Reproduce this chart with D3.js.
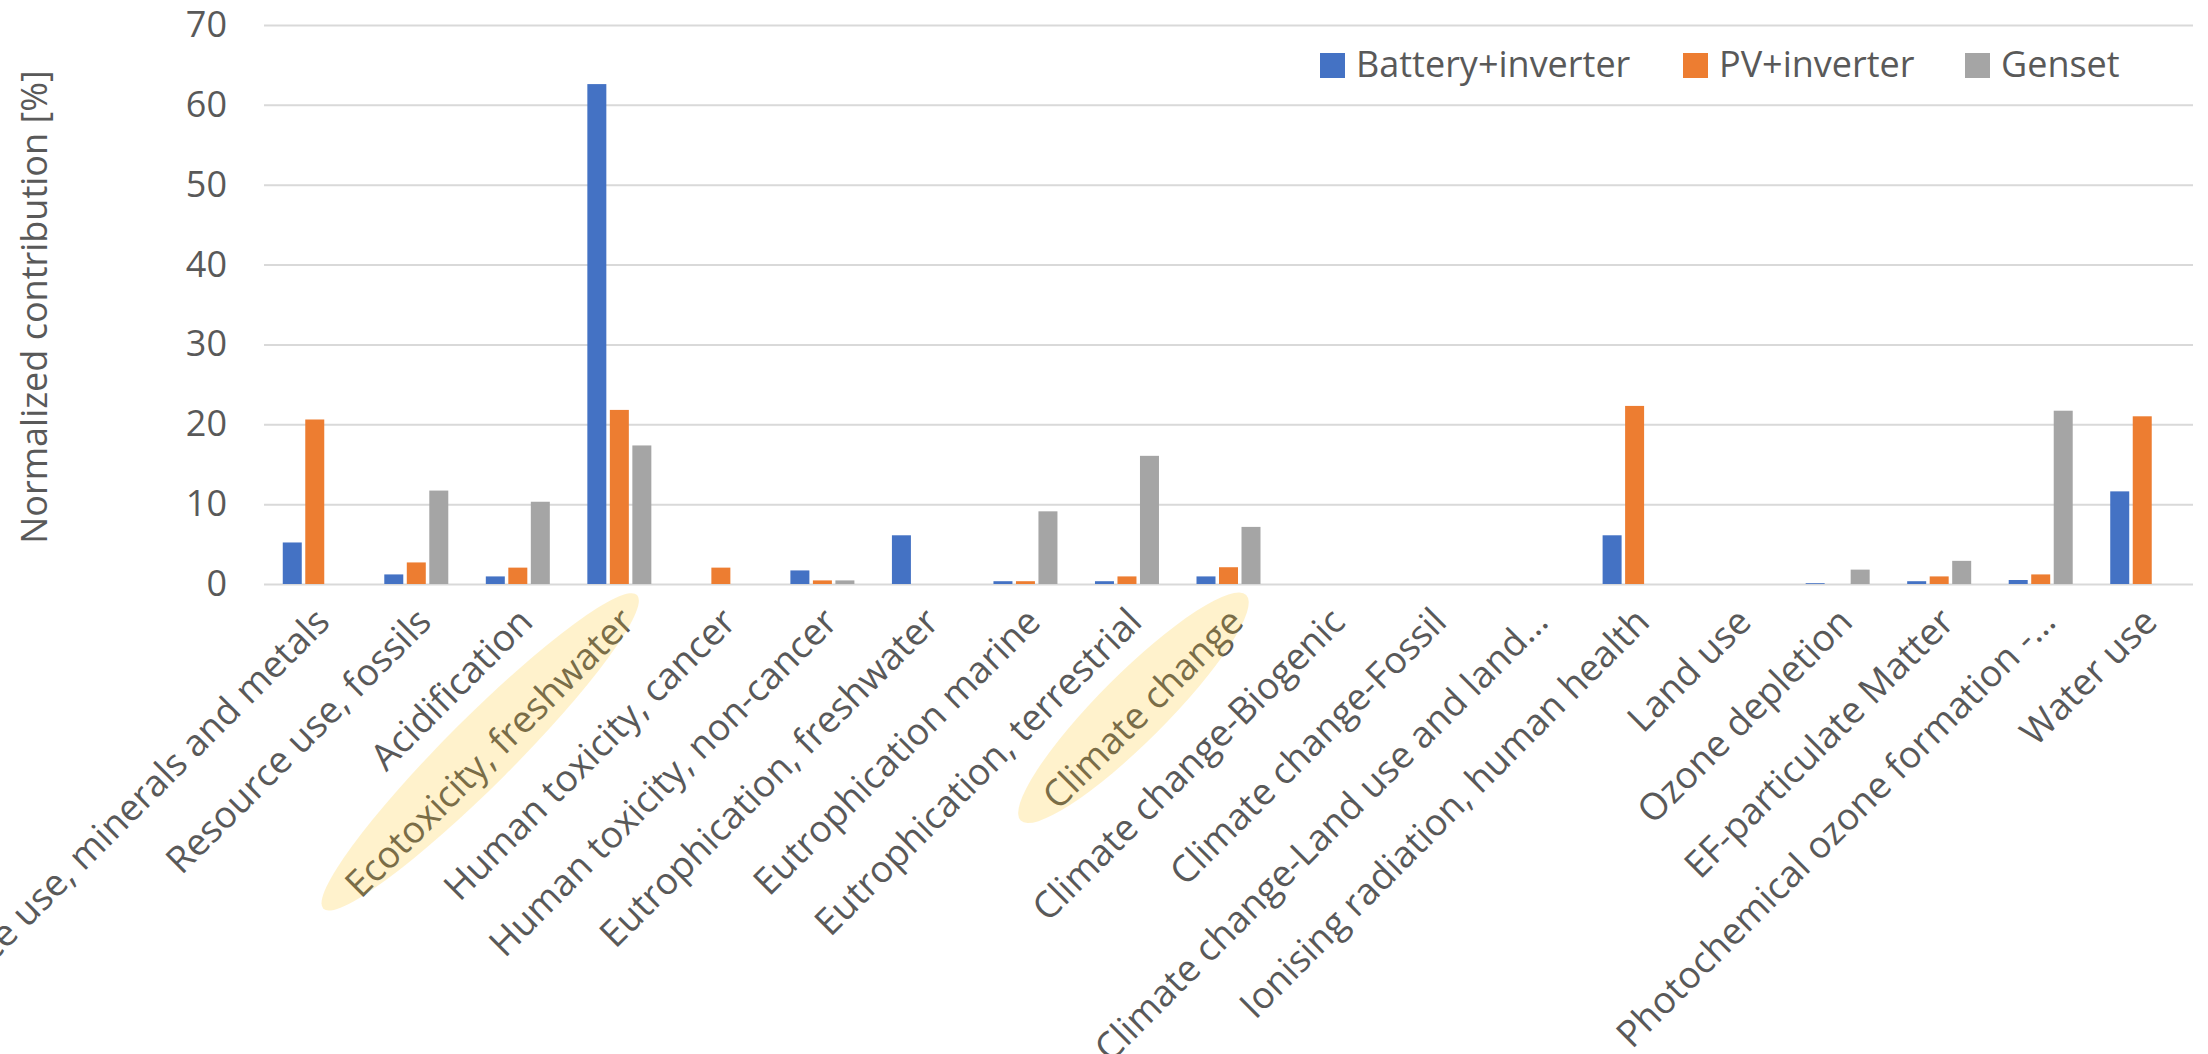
<!DOCTYPE html>
<html>
<head>
<meta charset="utf-8">
<script src="https://cdnjs.cloudflare.com/ajax/libs/d3/7.8.5/d3.min.js"></script>
<style>
  body { margin: 0; background: #fff; }
  text { font-family: "Open Sans", "Noto Sans", sans-serif; fill: #595959; }
</style>
</head>
<body>
<div id="chart"></div>
<script>
// categories on the x axis
var categories = [
  "Resource use, minerals and metals",
  "Resource use, fossils",
  "Acidification",
  "Ecotoxicity, freshwater",
  "Human toxicity, cancer",
  "Human toxicity, non-cancer",
  "Eutrophication, freshwater",
  "Eutrophication marine",
  "Eutrophication, terrestrial",
  "Climate change",
  "Climate change-Biogenic",
  "Climate change-Fossil",
  "Climate change-Land use and land\u2026",
  "Ionising radiation, human health",
  "Land use",
  "Ozone depletion",
  "EF-particulate Matter",
  "Photochemical ozone formation -\u2026",
  "Water use"
];
var seriesNames = ["Battery+inverter", "PV+inverter", "Genset"];
var seriesColors = ["#4472C4", "#ED7D31", "#A5A5A5"];

var battery = [5.2, 1.2, 0.95, 62.6, 0, 1.7, 6.1, 0.35, 0.35, 0.95, 0, 0, 0, 6.1, 0, 0.1, 0.35, 0.5, 11.6];
var pv      = [20.6, 2.7, 2.05, 21.8, 2.05, 0.45, 0, 0.35, 0.95, 2.1, 0, 0, 0, 22.3, 0, 0, 0.95, 1.2, 21.0];
var genset  = [0, 11.7, 10.3, 17.35, 0, 0.45, 0, 9.1, 16.05, 7.15, 0, 0, 0, 0, 0, 1.8, 2.9, 21.7, 0];

var yTicks = [0, 10, 20, 30, 40, 50, 60, 70];
var highlighted = ["Ecotoxicity, freshwater", "Climate change"];

var W = 2208, H = 1054;
var plotLeft = 264, plotRight = 2193, plotTop = 25, plotBottom = 584;

var svg = d3.select("#chart")
  .append("svg")
  .attr("width", W)
  .attr("height", H);

var x = d3.scaleBand().domain(categories).range([plotLeft, plotRight]).paddingInner(0).paddingOuter(0);
var xSub = d3.scaleBand().domain(seriesNames).range([-32, 32]).paddingInner(0.156);
var y = d3.scaleLinear().domain([0, 70]).range([plotBottom, plotTop]);

// gridlines + y tick labels
var yAxis = svg.append("g")
  .attr("transform", "translate(" + plotLeft + ",0)")
  .call(d3.axisLeft(y).tickValues(yTicks).tickSizeInner(-(plotRight - plotLeft)).tickSizeOuter(0).tickPadding(37));
yAxis.select(".domain").remove();
yAxis.selectAll(".tick line").attr("stroke", "#d9d9d9").attr("stroke-width", 2);
yAxis.selectAll(".tick text")
  .attr("fill", "#595959")
  .style("font-size", "36px")
  .style("font-family", "'Open Sans', sans-serif");

// y-label
svg.append("text")
  .attr("transform", "translate(47,307) rotate(-90)")
  .attr("text-anchor", "middle")
  .style("font-size", "36px")
  .text("Normalized contribution [%]");

// bars
var rows = [];
categories.forEach(function (c, i) {
  [battery, pv, genset].forEach(function (arr, j) {
    rows.push({ cat: c, series: seriesNames[j], color: seriesColors[j], value: arr[i] });
  });
});

svg.append("g")
  .selectAll("rect")
  .data(rows.filter(function (d) { return d.value > 0; }))
  .enter()
  .append("rect")
  .attr("x", function (d) { return x(d.cat) + x.bandwidth() / 2 + xSub(d.series); })
  .attr("width", xSub.bandwidth())
  .attr("y", function (d) { return y(d.value); })
  .attr("height", function (d) { return y(0) - y(d.value); })
  .attr("fill", function (d) { return d.color; });

// x labels, rotated
var labelDx = 17, labelDy = 40;
var labels = svg.append("g")
  .selectAll("text")
  .data(categories)
  .enter()
  .append("text")
  .attr("text-anchor", "end")
  .attr("transform", function (d) {
    return "translate(" + (x(d) + x.bandwidth() / 2 + labelDx) + "," + (plotBottom + labelDy) + ") rotate(-45)";
  })
  .style("font-size", "37px")
  .text(function (d) { return d; });

// yellow highlight ellipses on top of two labels
var hl = svg.append("g");
labels.each(function (d) {
  if (highlighted.indexOf(d) < 0) return;
  var len = this.getComputedTextLength();
  var ax = x(d) + x.bandwidth() / 2 + labelDx, ay = plotBottom + labelDy;
  var s = Math.SQRT1_2;
  // middle of the text baseline, moved up a little
  var along = len / 2 + 6, up = 20;
  var cx = ax - along * s - up * s;
  var cy = ay + along * s - up * s;
  hl.append("ellipse")
    .attr("cx", 0).attr("cy", 0)
    .attr("rx", len / 2 + 27)
    .attr("ry", 34)
    .attr("transform", "translate(" + cx + "," + cy + ") rotate(-45)")
    .attr("fill", "#FFC000")
    .attr("fill-opacity", 0.2);
});

// legend
var legendX = [1320, 1683, 1965];
var legend = svg.append("g");
seriesNames.forEach(function (s, i) {
  legend.append("rect")
    .attr("x", legendX[i]).attr("y", 53)
    .attr("width", 25).attr("height", 25)
    .attr("fill", seriesColors[i]);
  legend.append("text")
    .attr("x", legendX[i] + 36).attr("y", 77)
    .style("font-size", "36px")
    .text(s);
});
</script>
</body>
</html>
